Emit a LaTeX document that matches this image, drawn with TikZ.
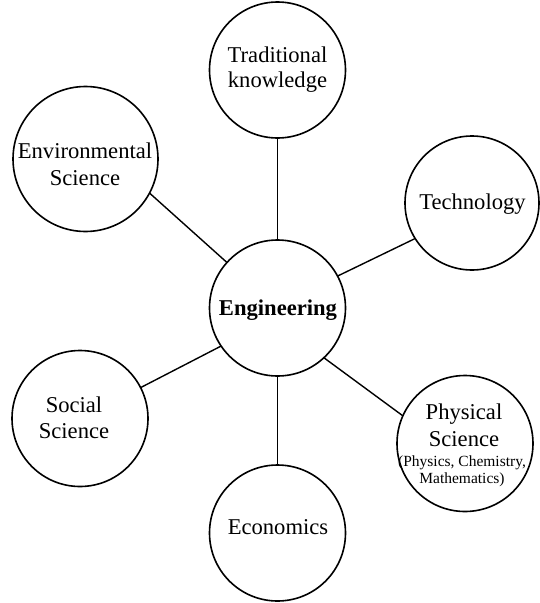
\documentclass[tikz,border=0pt]{standalone}
\usepackage{fontspec}
\setmainfont{Liberation Serif}
\begin{document}
\begin{tikzpicture}[x=1pt,y=-1pt,
  bubble/.style={draw=black,circle,line width=1.6pt,inner sep=0pt,outer sep=0pt},
  lbl/.style={inner sep=0pt,align=center,font=\fontsize{22.6}{26}\selectfont},
  smalllbl/.style={inner sep=0pt,align=center,font=\fontsize{15.5}{17}\selectfont},
  link/.style={draw=black,line width=1.4pt}]
\useasboundingbox (0,0) rectangle (540,603);
% circles
\node[bubble,minimum size=136pt] (eng)  at (277.5,308) {};
\node[bubble,minimum size=136pt] (trad) at (277.5,70) {};
\node[bubble,minimum size=145pt] (env)  at (85.5,159) {};
\node[bubble,minimum size=134pt] (tech) at (472,203) {};
\node[bubble,minimum size=136pt] (phys) at (465,443.5) {};
\node[bubble,minimum size=136pt] (soc)  at (80,418.5) {};
\node[bubble,minimum size=136pt] (econ) at (277.5,533) {};
% labels
\node[lbl,font=\fontsize{22.6}{26}\selectfont\bfseries] (engT) at (278,309.7) {Engineering};
\node[lbl,font=\fontsize{22.6}{25.6}\selectfont] (tradT) at (277.5,69.4) {Traditional\\knowledge};
\node[lbl,font=\fontsize{22.6}{27}\selectfont] (envT) at (85,164) {Environmental\\Science};
\node[lbl] (techT) at (472.5,203.9) {Technology};
\node[lbl,font=\fontsize{22.6}{27}\selectfont] (physT) at (464,425) {Physical\\Science};
\node[smalllbl] (physS) at (462,470.8) {(Physics, Chemistry,\\Mathematics)};
\node[lbl] (socT) at (74,417.5) {Social\\Science};
\node[lbl] (econT) at (278,527.5) {Economics};
% connectors
\draw[link] (eng.90) -- (trad.-90);
\draw[link] (eng.138) -- (env.-28);
\draw[link] (eng.28) -- (tech.212);
\draw[link] (eng.-47) -- (phys.156);
\draw[link] (eng.214) -- (soc.27);
\draw[link] (eng.-90) -- (econ.90);
\end{tikzpicture}
\end{document}
